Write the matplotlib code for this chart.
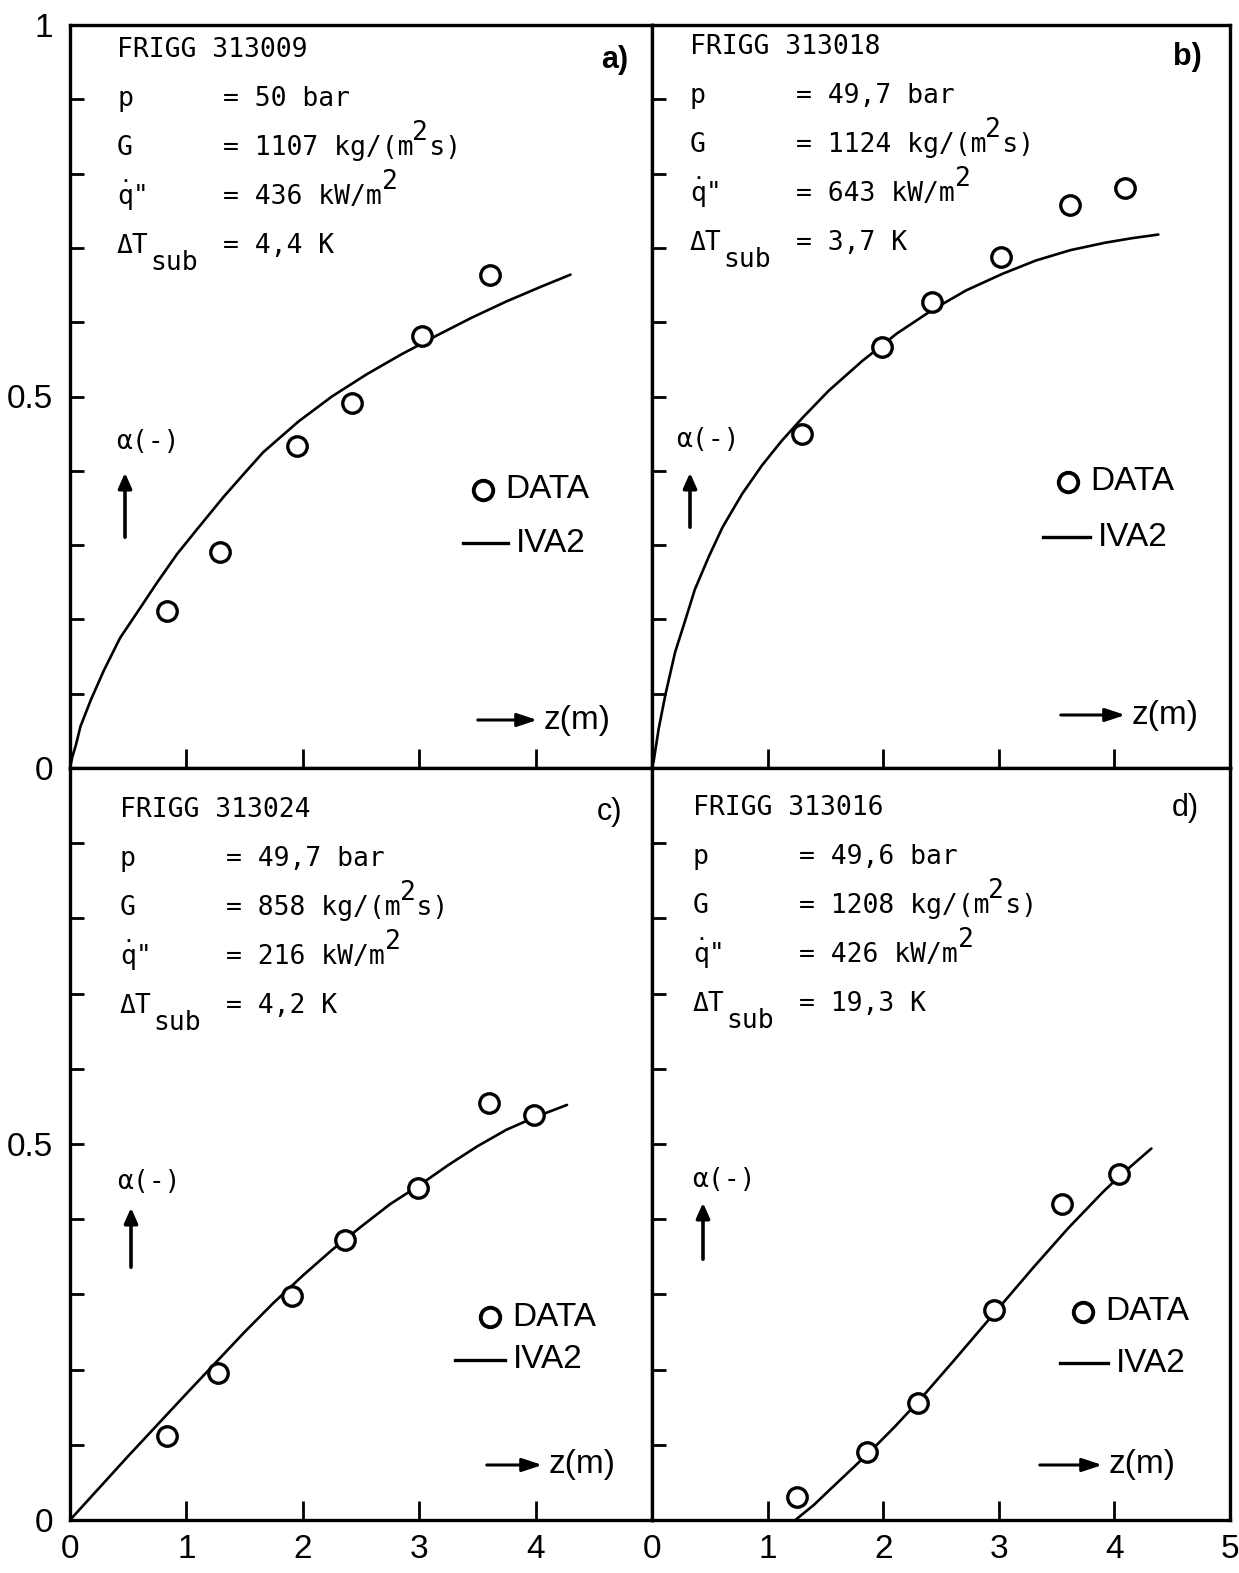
import numpy as np
import matplotlib.pyplot as plt
from matplotlib.lines import Line2D
from matplotlib.patches import FancyArrowPatch

W, H = 1239, 1573

# ---- data (z in m, alpha in -) ----
# a) FRIGG 313009
za_data = [0.83, 1.29, 1.95, 2.42, 3.02, 3.61]
aa_data = [0.211, 0.291, 0.433, 0.491, 0.581, 0.664]
za_iva2 = [0, 0.02, 0.049, 0.09, 0.18, 0.29, 0.43, 0.58, 0.75, 0.92, 1.09, 1.32,
           1.50, 1.66, 1.96, 2.25, 2.55, 2.85, 3.02, 3.15, 3.45, 3.75, 4.05, 4.30]
aa_iva2 = [0, 0.015, 0.030, 0.056, 0.092, 0.131, 0.175, 0.210, 0.250, 0.288,
           0.321, 0.365, 0.397, 0.425, 0.466, 0.500, 0.530, 0.557, 0.571, 0.582,
           0.606, 0.628, 0.648, 0.664]

# b) FRIGG 313018
zb_data = [1.30, 1.99, 2.42, 3.02, 3.62, 4.09]
ab_data = [0.450, 0.567, 0.627, 0.688, 0.758, 0.780]
zb_iva2 = [0, 0.014, 0.058, 0.115, 0.20, 0.29, 0.37, 0.49, 0.61, 0.78, 0.95,
           1.12, 1.30, 1.53, 1.82, 2.12, 2.43, 2.72, 3.03, 3.32, 3.62, 3.92,
           4.15, 4.38]
ab_iva2 = [0, 0.009, 0.053, 0.098, 0.156, 0.200, 0.240, 0.284, 0.324, 0.369,
           0.407, 0.440, 0.471, 0.508, 0.548, 0.585, 0.617, 0.643, 0.665, 0.683,
           0.697, 0.707, 0.713, 0.718]

# c) FRIGG 313024
zc_data = [0.83, 1.27, 1.91, 2.36, 2.99, 3.60, 3.99]
ac_data = [0.112, 0.196, 0.298, 0.372, 0.441, 0.555, 0.539]
zc_iva2 = [0, 0.5, 1.0, 1.5, 1.75, 2.0, 2.25, 2.5, 2.75, 3.0, 3.25, 3.5, 3.75,
           4.0, 4.27]
ac_iva2 = [0, 0.085, 0.168, 0.250, 0.289, 0.325, 0.359, 0.390, 0.420, 0.445,
           0.472, 0.497, 0.519, 0.536, 0.552]

# d) FRIGG 313016
zd_data = [1.25, 1.86, 2.30, 2.96, 3.55, 4.04]
ad_data = [0.030, 0.090, 0.155, 0.279, 0.420, 0.460]
zd_iva2 = [1.24, 1.40, 1.55, 1.75, 1.90, 2.10, 2.30, 2.60, 2.95, 3.30, 3.60,
           3.90, 4.05, 4.32]
ad_iva2 = [0, 0.020, 0.042, 0.071, 0.093, 0.124, 0.157, 0.210, 0.273, 0.336,
           0.388, 0.436, 0.458, 0.494]

runs = ['FRIGG 313009', 'FRIGG 313018', 'FRIGG 313024', 'FRIGG 313016']
p_vals = ['50', '49,7', '49,7', '49,6']
G_vals = ['1107', '1124', '858', '1208']
q_vals = ['436', '643', '216', '426']
dT_vals = ['4,4', '3,7', '4,2', '19,3']
tags = ['a)', 'b)', 'c)', 'd)']

y_ticks = [0, 0.1, 0.2, 0.3, 0.4, 0.5, 0.6, 0.7, 0.8, 0.9, 1.0]
y_labels_top = ['0', '', '', '', '', '0.5', '', '', '', '', '1']
y_labels_bot = ['0', '', '', '', '', '0.5', '', '', '', '', '']
x_ticks = [0, 1, 2, 3, 4, 5]
x_labels_c = ['0', '1', '2', '3', '4', '']
x_labels_d = ['0', '1', '2', '3', '4', '5']

panels = [
    (za_data, aa_data, za_iva2, aa_iva2),
    (zb_data, ab_data, zb_iva2, ab_iva2),
    (zc_data, ac_data, zc_iva2, ac_iva2),
    (zd_data, ad_data, zd_iva2, ad_iva2),
]

# ---- layout (pixels in the 1239x1573 picture) ----
boxes = [(70, 25, 652, 768), (652, 25, 1230, 768),
         (70, 768, 652, 1520), (652, 768, 1230, 1520)]
layout = [
    dict(txt=(117, 50), tag=(615, 60), alpha=(116, 442), arr=(125, 540, 470),
         dat=(483, 490), iva=(463, 508, 543), zarr=(475, 540, 720)),
    dict(txt=(690, 47), tag=(1187, 57), alpha=(676, 440), arr=(690, 530, 470),
         dat=(1068, 482), iva=(1043, 1090, 537), zarr=(1058, 1128, 715)),
    dict(txt=(120, 810), tag=(610, 812), alpha=(117, 1182), arr=(131, 1270, 1205),
         dat=(490, 1317), iva=(455, 505, 1360), zarr=(484, 545, 1465)),
    dict(txt=(693, 808), tag=(1185, 808), alpha=(692, 1180), arr=(703, 1262, 1200),
         dat=(1083, 1312), iva=(1060, 1108, 1363), zarr=(1037, 1105, 1465)),
]

MONO = 'DejaVu Sans Mono'
SANS = ['Liberation Sans Narrow', 'Liberation Sans', 'DejaVu Sans']
FS_MONO = 19
CW = 0.602 * FS_MONO * 100 / 72     # character cell width in px
ROW = 49


def fxy(x, y):
    return x / W, 1 - y / H


fig = plt.figure(figsize=(W / 100, H / 100), dpi=100)
for i, (l, t, r, b) in enumerate(boxes):
    ax = fig.add_axes([l / W, 1 - b / H, (r - l) / W, (b - t) / H])
    zd, ad, zi, ai = panels[i]
    ax.plot(zi, ai, color='black', lw=1.9, solid_capstyle='round',
            solid_joinstyle='round')
    ax.plot(zd, ad, 'o', ms=14, mfc='white', mec='black', mew=2.4)
    ax.set_xlim(0, 5)
    ax.set_ylim(0, 1)
    for s in ax.spines.values():
        s.set_linewidth(2.4)
    ax.set_yticks(y_ticks)
    ax.set_xticks(x_ticks)
    ax.tick_params(axis='y', direction='in', length=10, width=2, pad=12,
                   labelsize=24, left=True, right=False)
    ax.tick_params(axis='x', direction='in', length=14, width=2, pad=10,
                   labelsize=24, bottom=True, top=False)
    if i == 0:
        ax.set_yticklabels(y_labels_top)
    elif i == 2:
        ax.set_yticklabels(y_labels_bot)
    else:
        ax.set_yticklabels([])
    if i == 2:
        ax.set_xticklabels(x_labels_c)
    elif i == 3:
        ax.set_xticklabels(x_labels_d)
    else:
        ax.set_xticklabels([])
    for lab in ax.get_xticklabels() + ax.get_yticklabels():
        lab.set_family(SANS)

mono = dict(family=MONO, fontsize=FS_MONO, va='center', ha='left')
for i, lay in enumerate(layout):
    x0, y0 = lay['txt']
    xe = x0 + 6.7 * CW
    fig.text(*fxy(x0, y0), runs[i], **mono)
    # p
    fig.text(*fxy(x0, y0 + ROW), 'p', **mono)
    fig.text(*fxy(xe, y0 + ROW), '= ' + p_vals[i] + ' bar', **mono)
    # G
    yg = y0 + 2 * ROW
    s = '= ' + G_vals[i] + ' kg/(m s)'
    fig.text(*fxy(x0, yg), 'G', **mono)
    fig.text(*fxy(xe, yg), s, **mono)
    fig.text(*fxy(xe + s.index('m ') * CW + CW * 0.9, yg - 15), '2', **mono)
    # q dot
    yq = y0 + 3 * ROW
    s = '= ' + q_vals[i] + ' kW/m'
    fig.text(*fxy(x0, yq), 'q"', **mono)
    fig.text(*fxy(x0, yq - 4), '\u02d9', **mono)
    fig.text(*fxy(xe, yq), s, **mono)
    fig.text(*fxy(xe + len(s) * CW, yq - 15), '2', **mono)
    # delta T sub
    yt = y0 + 4 * ROW
    fig.text(*fxy(x0, yt), '\u0394T', **mono)
    fig.text(*fxy(x0 + 2.1 * CW, yt + 17), 'sub', **mono)
    fig.text(*fxy(xe, yt), '= ' + dT_vals[i] + ' K', **mono)

    # panel tag
    fig.text(*fxy(*lay['tag']), tags[i], family=SANS, fontsize=22,
             fontweight='bold' if i < 2 else 'normal', ha='center', va='center')

    # alpha(-) with upward arrow
    fig.text(*fxy(*lay['alpha']), '\u03b1(-)', family=MONO, fontsize=19,
             ha='left', va='center')
    xa, yb, yt_ = lay['arr']
    fig.add_artist(FancyArrowPatch(
        fxy(xa, yb), fxy(xa, yt_), transform=fig.transFigure,
        arrowstyle='-|>,head_length=9,head_width=4', lw=2.6, color='black',
        mutation_scale=1))

    # legend: DATA
    cx, cy = lay['dat']
    fig.add_artist(Line2D([cx / W], [1 - cy / H], transform=fig.transFigure,
                          marker='o', ms=14, mfc='white', mec='black', mew=2.8))
    fig.text(*fxy(cx + 22, cy), 'DATA', family=SANS, fontsize=24,
             ha='left', va='center')
    # legend: IVA2
    x1, x2, yi = lay['iva']
    fig.add_artist(Line2D([x1 / W, x2 / W], [1 - yi / H, 1 - yi / H],
                          transform=fig.transFigure, color='black', lw=2.4))
    fig.text(*fxy(x2 + 8, yi), 'IVA2', family=SANS, fontsize=24,
             ha='left', va='center')
    # z(m) arrow
    x1, x2, yz = lay['zarr']
    fig.add_artist(FancyArrowPatch(
        fxy(x1, yz), fxy(x2, yz), transform=fig.transFigure,
        arrowstyle='-|>,head_length=12,head_width=4', lw=2.2, color='black',
        mutation_scale=1))
    fig.text(*fxy(x2 + 4, yz), 'z(m)', family=SANS, fontsize=24,
             ha='left', va='center')

fig.savefig('out.png', dpi=100, facecolor='white')
